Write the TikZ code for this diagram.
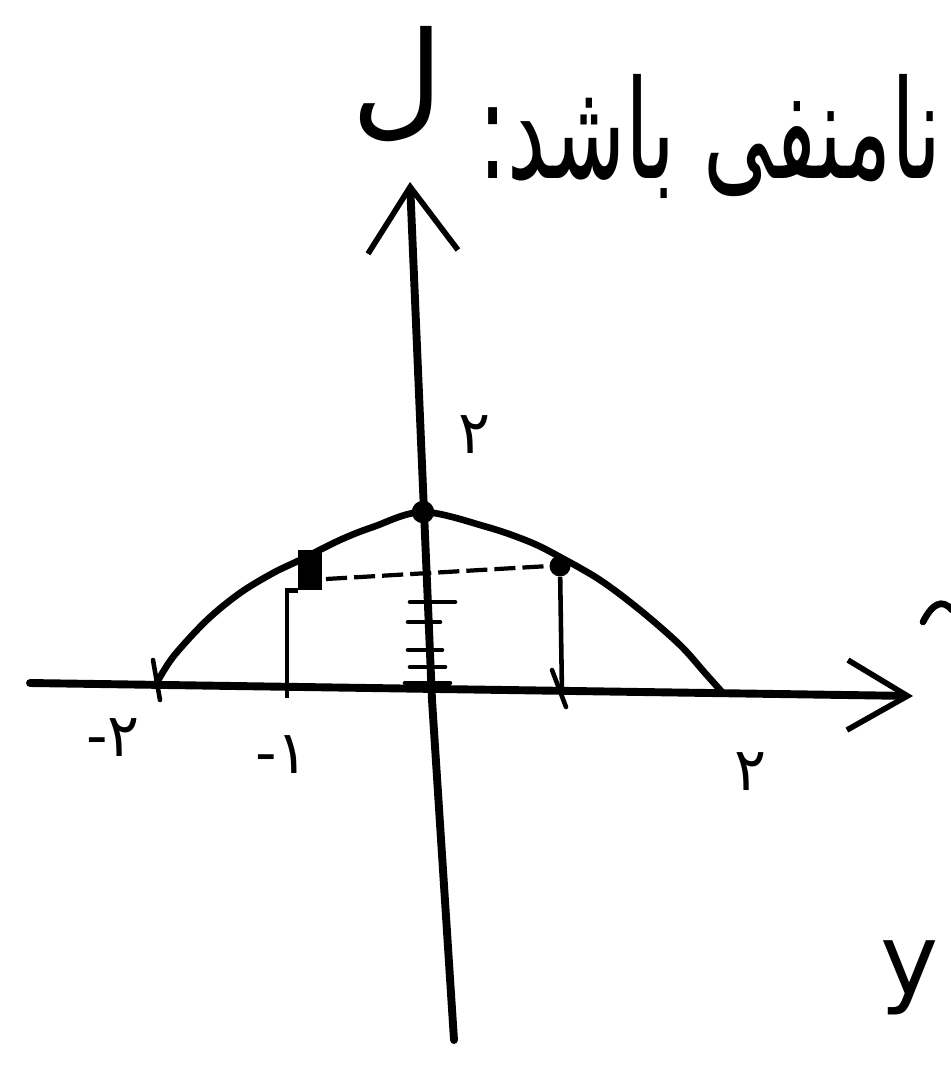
\documentclass[tikz,border=0pt]{standalone}
\usepackage{fontspec}
\usepackage{graphicx}
\usetikzlibrary{arrows.meta,positioning}
\newfontfamily\arabicfont[Script=Arabic]{DejaVu Sans}
\newfontfamily\handfont{DejaVu Sans}
\TeXXeTstate=1

\begin{document}
\begin{tikzpicture}[
    x=0.02cm, y=-0.02cm,
    axis/.style={line width=4.5pt, line cap=round},
    curve/.style={line width=3.8pt, line cap=round},
    guide/.style={line width=2.6pt},
    dashtop/.style={line width=2.4pt, dash pattern=on 12pt off 4pt},
    tick/.style={line width=2.6pt, line cap=round},
    dot/.style={circle, fill=black, inner sep=0pt, minimum size=0.42cm},
    num/.style={font=\handfont\fontsize{34}{40}\selectfont, inner sep=0pt},
    hand/.style={font=\handfont\fontsize{80}{80}\selectfont, inner sep=0pt},
    ytip/.style={-{Straight Barb[length=1.3cm, width=1.8cm, line width=3.2pt]}},
    xtip/.style={-{Straight Barb[length=1.2cm, width=1.4cm, line width=3.2pt]}}
]
\fill[white] (0,0) rectangle (950,1068);
\useasboundingbox (0,0) rectangle (950,1068);

% Axes
\coordinate (xl) at (30,683);
\coordinate (xr) at (913,696);
\coordinate (yb) at (454,1040);
\coordinate (yo) at (432,700);
\coordinate (yt) at (410,182);
\draw[axis, xtip] (xl) -- (xr);
\draw[axis, ytip] (yb) -- (yo) -- (yt);

% Curve
\draw[curve] plot[smooth, tension=0.55] coordinates {(155,686) (173,657) (207,620) (240,593) (273,573) (300,560) (340,540) (373,527) (423,512) (487,527) (530,542) (560,557) (600,580) (640,610) (680,645) (705,673) (722,692)};

% Points on the curve
\node[dot, minimum size=0.45cm] (peak) at (423,512) {};
\node[dot] (rdot) at (560,566) {};
\node[fill=black, minimum width=0.48cm, minimum height=0.8cm, inner sep=0pt] (lblob) at (310,570) {};

% Rectangle under the curve
\coordinate (lbot) at (287,698);
\coordinate (rbot) at (562,694);
\coordinate (dl) at (326,579);
\draw[guide] (lbot) |- (lblob.south west);
\draw[guide] (rdot) -- (rbot);
\draw[dashtop] (dl) -- (rdot.west);

% Ticks
\draw[tick] (153,660) -- (160,700);
\draw[tick] (552,670) -- (566,707);
\draw[tick] (410,602) -- (455,602);
\draw[tick] (408,622) -- (440,622);
\draw[tick] (408,650) -- (442,650);
\draw[tick] (410,667) -- (445,667);
\draw[tick] (405,683) -- (450,683);

% Labels
\node[num] (two) at (475,435) {۲};
\node[num] (mtwo) at (113,738) {-۲};
\node[num] (mone) at (282,755) {-۱};
\node[num] (ptwo) at (751,772) {۲};
\node[font=\arabicfont\fontsize{78}{82}\selectfont, anchor=base east, inner sep=0pt] (cond) at (942,178) {\scalebox{0.63}[1]{\beginR نامنفی باشد:\endR}};
\node[font=\arabicfont\fontsize{72}{76}\selectfont, inner sep=0pt] (ylbl) at (397,84) {ل};
\node[hand, anchor=north west] (ylbr) at (880,940) {\scalebox{0.7}{y}};

% Edge stroke
\draw[curve] (923,622) .. controls (932,604) and (942,598) .. (952,610);

\end{tikzpicture}
\end{document}
